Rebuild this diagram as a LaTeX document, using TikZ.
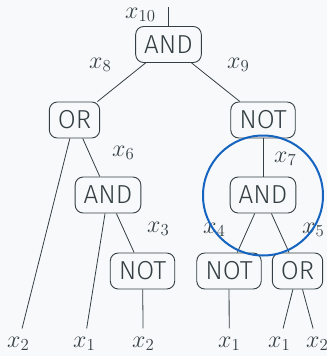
\RequirePackage{fix-cm}
\documentclass[tikz,border=0pt]{standalone}
\usepackage{fontspec}
\setsansfont{Fira Sans Light}
\definecolor{ink}{HTML}{343F44}
\definecolor{bg}{HTML}{F8F9FA}
\definecolor{ring}{HTML}{1565C0}
\begin{document}
\begin{tikzpicture}[x=1pt,y=-1pt,
  gate/.style={draw=ink,line width=0.9pt,rounded corners=8pt,fill=bg,text=ink,
    font=\sffamily\fontsize{26}{30}\selectfont,minimum height=36pt,inner xsep=8.5pt,inner ysep=0pt},
  leaf/.style={text=ink,font=\fontsize{24}{28}\selectfont,inner xsep=0pt,inner ysep=8pt,anchor=base west},
  lab/.style={text=ink,font=\fontsize{24}{28}\selectfont,inner sep=0pt,anchor=base west},
  edge/.style={draw=ink,line width=0.8pt}]
\fill[bg] (0,0) rectangle (327,356);
\useasboundingbox (0,0) rectangle (327,356);
\coordinate (top) at (168.5,7);
\node[gate] (and0) at (168.5,44.5) {AND};
\node[gate] (or1) at (74.5,120) {OR};
\node[gate] (not1) at (263,120) {NOT};
\node[gate] (and2) at (108,195) {AND};
\node[gate] (and3) at (263,195) {AND};
\node[gate] (not2) at (142.5,271) {NOT};
\node[gate] (not3) at (229,271) {NOT};
\node[gate] (or3) at (297.5,271) {OR};
\node[leaf] (l1) at (7,347) {$x_2$};
\node[leaf] (l2) at (73,347) {$x_1$};
\node[leaf] (l3) at (132,347) {$x_2$};
\node[leaf] (l4) at (218,347) {$x_1$};
\node[leaf] (l5) at (268,347) {$x_1$};
\node[leaf] (l6) at (306,347) {$x_2$};
\draw[edge] (top) -- (and0);
\draw[edge] (and0) -- (or1);
\draw[edge] (and0) -- (not1);
\draw[edge] (or1) -- (l1);
\draw[edge] (or1) -- (and2);
\draw[edge] (and2) -- (l2);
\draw[edge] (and2) -- (not2);
\draw[edge] (not2) -- (l3);
\draw[edge] (not1) -- (and3);
\draw[edge] (and3) -- (not3);
\draw[edge] (and3) -- (or3);
\draw[edge] (not3) -- (l4);
\draw[edge] (or3) -- (l5);
\draw[edge] (or3) -- (l6);
\node[lab] (lx10) at (125,18) {$x_{10}$};
\node[lab] (lx8) at (89,68) {$x_8$};
\node[lab] (lx9) at (227,68) {$x_9$};
\node[lab] (lx6) at (112,156) {$x_6$};
\node[lab] (lx7) at (274,162) {$x_7$};
\node[lab] (lx3) at (147,232) {$x_3$};
\node[lab] (lx4) at (203,233) {$x_4$};
\node[lab] (lx5) at (302,233) {$x_5$};
\draw[ring,line width=2pt] (263,195.5) circle[radius=60];
\end{tikzpicture}
\end{document}
